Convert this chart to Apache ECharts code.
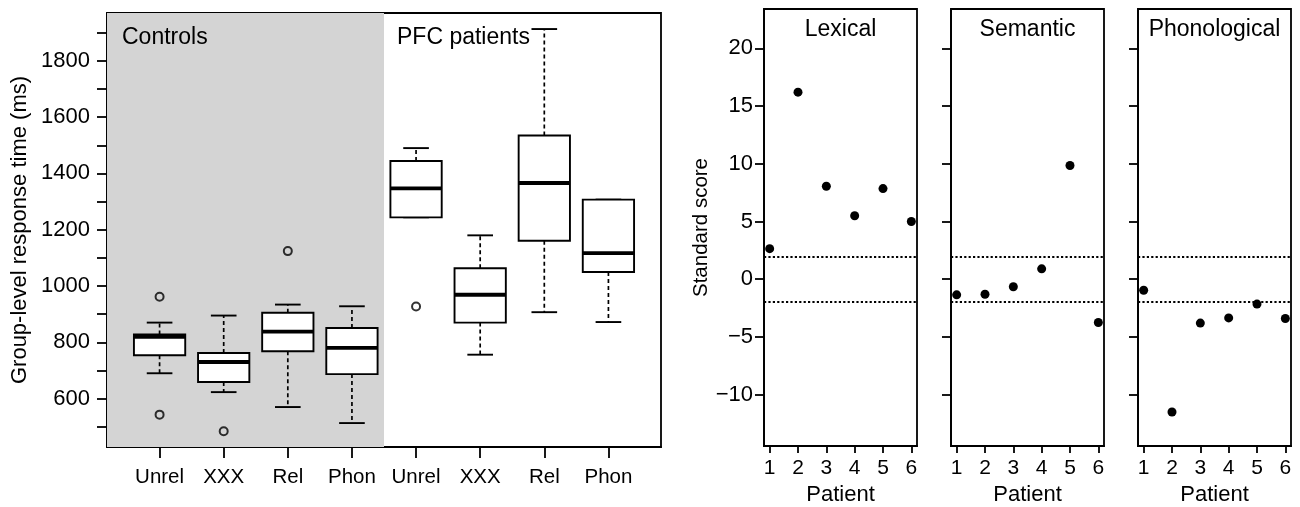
<!DOCTYPE html>
<html>
<head>
<meta charset="utf-8">
<script src="https://cdn.jsdelivr.net/npm/echarts@6/dist/echarts.min.js"></script>
<style>
  html, body { margin: 0; padding: 0; background: #fff; }
  #main { width: 1300px; height: 507px; }
</style>
</head>
<body>
<div id="main"></div>
<script>
// conditions on the left panel (controls first, then patients)
var conditions = ['Unrel', 'XXX', 'Rel', 'Phon', 'Unrel', 'XXX', 'Rel', 'Phon'];
// box stats per condition: [lower whisker, Q1, median, Q3, upper whisker]
var boxStats = [
    [690, 754, 819, 828, 870],
    [623, 659, 730, 762, 895],
    [570, 768, 838, 905, 934],
    [513, 687, 780, 851, 928],
    [1244, 1244, 1347, 1444, 1490],
    [756, 870, 969, 1063, 1180],
    [907, 1161, 1366, 1535, 1913],
    [872, 1050, 1117, 1307, 1307]
];
// outliers: [condition index (1-based), response time]
var outliers = [[1, 962], [1, 543], [2, 484], [3, 1124], [5, 927]];
var rtTicks = [500, 600, 700, 800, 900, 1000, 1100, 1200, 1300, 1400, 1500, 1600, 1700, 1800, 1900];
var rtLabels = [600, 800, 1000, 1200, 1400, 1600, 1800];

// standard scores per patient
var patients = [1, 2, 3, 4, 5, 6];
var lexical = [2.65, 16.2, 8.05, 5.5, 7.85, 5.0];
var semantic = [-1.35, -1.3, -0.65, 0.9, 9.85, -3.75];
var phonological = [-0.95, -11.5, -3.8, -3.35, -2.15, -3.4];
var scoreTicks = [-10, -5, 0, 5, 10, 15, 20];
var cutoffs = [1.96, -1.96];

var font = 'Liberation Sans, Arial, sans-serif';
var myChart = echarts.init(document.getElementById('main'));

function renderBox(params, api) {
    var x = api.value(0);
    var lo = api.coord([x, api.value(1)]);
    var q1 = api.coord([x, api.value(2)]);
    var md = api.coord([x, api.value(3)]);
    var q3 = api.coord([x, api.value(4)]);
    var hi = api.coord([x, api.value(5)]);
    var half = api.size([0.8, 0])[0] / 2;
    var cap = api.size([0.4, 0])[0] / 2;
    var cx = lo[0];
    var dashed = { stroke: '#000', lineWidth: 1.7, lineDash: [4, 3] };
    var solid = { stroke: '#000', lineWidth: 1.9 };
    return {
        type: 'group',
        children: [
            { type: 'line', shape: { x1: cx, y1: q3[1], x2: cx, y2: hi[1] }, style: dashed },
            { type: 'line', shape: { x1: cx, y1: q1[1], x2: cx, y2: lo[1] }, style: dashed },
            { type: 'line', shape: { x1: cx - cap, y1: hi[1], x2: cx + cap, y2: hi[1] }, style: solid },
            { type: 'line', shape: { x1: cx - cap, y1: lo[1], x2: cx + cap, y2: lo[1] }, style: solid },
            { type: 'rect', shape: { x: cx - half, y: q3[1], width: half * 2, height: q1[1] - q3[1] },
              style: { fill: '#fff', stroke: '#000', lineWidth: 1.9 } },
            { type: 'line', shape: { x1: cx - half, y1: md[1], x2: cx + half, y2: md[1] },
              style: { stroke: '#000', lineWidth: 3.8 } }
        ]
    };
}

var panelGrids = [764, 951, 1138];
var panelNames = ['Lexical', 'Semantic', 'Phonological'];
var panelData = [lexical, semantic, phonological];

var grids = [{
    left: 107, top: 13, width: 554, height: 434, outerBoundsMode: 'none',
    show: true, borderColor: '#000', borderWidth: 1.8
}];
var xAxes = [{
    gridIndex: 0, type: 'value', min: 0.18, max: 8.82,
    splitLine: { show: false },
    axisLine: { onZero: false, lineStyle: { color: '#000', width: 1.8 } },
    axisTick: { customValues: [1, 2, 3, 4, 5, 6, 7, 8], length: 11, lineStyle: { color: '#000', width: 1.8 } },
    axisLabel: {
        customValues: [1, 2, 3, 4, 5, 6, 7, 8], margin: 20, color: '#000',
        fontFamily: font, fontSize: 20.5,
        formatter: function (v) { return conditions[Math.round(v) - 1]; }
    }
}];
var yAxes = [{
    gridIndex: 0, type: 'value', min: 428, max: 1970,
    splitLine: { show: false },
    name: 'Group-level response time (ms)', nameLocation: 'middle', nameGap: 76, nameRotate: 90,
    nameTextStyle: { color: '#000', fontFamily: font, fontSize: 22 },
    axisLine: { show: true, onZero: false, lineStyle: { color: '#000', width: 1.8 } },
    axisTick: { customValues: rtTicks, length: 10, lineStyle: { color: '#000', width: 1.8 } },
    axisLabel: {
        customValues: rtLabels, margin: 17, color: '#000', fontFamily: font, fontSize: 22,
        formatter: function (v) { return String(v); }
    }
}];
var series = [
    {
        type: 'line', xAxisIndex: 0, yAxisIndex: 0, data: [], z: 0, silent: true,
        markArea: {
            silent: true,
            itemStyle: { color: '#d4d4d4' },
            data: [[{ coord: [0.18, 428] }, { coord: [4.5, 1970] }]]
        }
    },
    {
        type: 'custom', xAxisIndex: 0, yAxisIndex: 0, z: 3,
        renderItem: renderBox,
        data: boxStats.map(function (s, i) { return [i + 1].concat(s); })
    },
    {
        type: 'scatter', xAxisIndex: 0, yAxisIndex: 0, z: 3,
        symbol: 'circle', symbolSize: 8,
        itemStyle: { color: 'rgba(0,0,0,0)', borderColor: '#000', borderWidth: 2 },
        data: outliers
    }
];

panelGrids.forEach(function (left, k) {
    var g = k + 1;
    grids.push({
        left: left, top: 9, width: 153, height: 437, outerBoundsMode: 'none',
        show: true, borderColor: '#000', borderWidth: 1.8
    });
    xAxes.push({
        gridIndex: g, type: 'value', min: 0.8, max: 6.2,
        splitLine: { show: false },
        name: 'Patient', nameLocation: 'middle', nameGap: 33,
        nameTextStyle: { color: '#000', fontFamily: font, fontSize: 22 },
        axisLine: { onZero: false, lineStyle: { color: '#000', width: 1.8 } },
        axisTick: { customValues: patients, length: 7, lineStyle: { color: '#000', width: 1.8 } },
        axisLabel: { customValues: patients, margin: 12, color: '#000', fontFamily: font, fontSize: 21 }
    });
    yAxes.push({
        gridIndex: g, type: 'value', min: -14.44, max: 23.4,
        splitLine: { show: false },
        name: k === 0 ? 'Standard score' : '', nameLocation: 'middle', nameGap: 48, nameRotate: 90,
        nameTextStyle: { color: '#000', fontFamily: font, fontSize: 20.5 },
        axisLine: { show: true, onZero: false, lineStyle: { color: '#000', width: 1.8 } },
        axisTick: { customValues: scoreTicks, length: 9, lineStyle: { color: '#000', width: 1.8 } },
        axisLabel: {
            show: k === 0, customValues: scoreTicks, margin: 11, color: '#000', fontFamily: font, fontSize: 22,
            formatter: function (v) { return String(v).replace('-', '\u2212'); }
        }
    });
    series.push({
        type: 'scatter', xAxisIndex: g, yAxisIndex: g,
        symbol: 'circle', symbolSize: 9,
        itemStyle: { color: '#000', opacity: 1 },
        data: patients.map(function (p, i) { return [p, panelData[k][i]]; }),
        markLine: {
            silent: true, symbol: 'none', label: { show: false },
            lineStyle: { color: '#000', type: 'dotted', width: 2.2, opacity: 1 },
            data: cutoffs.map(function (c) { return { yAxis: c }; })
        }
    });
});

var titles = [
    { text: 'Controls', x: 122, y: 38, align: 'left' },
    { text: 'PFC patients', x: 397, y: 38, align: 'left' }
];
panelGrids.forEach(function (left, k) {
    titles.push({ text: panelNames[k], x: left + 76.5, y: 30, align: 'center' });
});

myChart.setOption({
    animation: false,
    backgroundColor: '#fff',
    grid: grids,
    xAxis: xAxes,
    yAxis: yAxes,
    series: series,
    graphic: titles.map(function (t) {
        return {
            type: 'text', x: t.x, y: t.y, z: 10,
            style: { text: t.text, align: t.align, verticalAlign: 'middle', fill: '#000', fontFamily: font, fontSize: 23 }
        };
    })
});
</script>
</body>
</html>
